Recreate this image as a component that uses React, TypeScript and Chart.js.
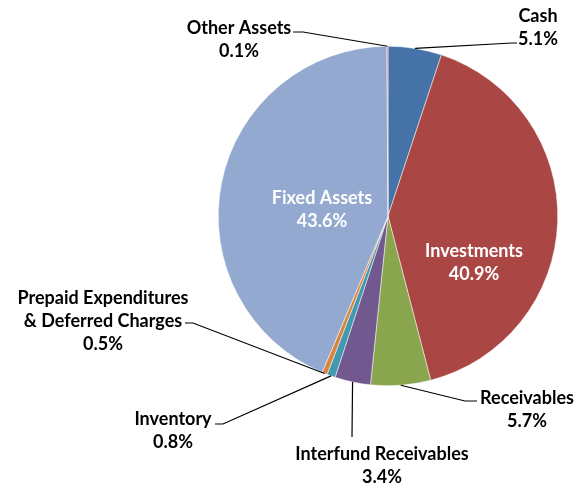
import React, { useEffect, useRef } from "react";
import { Chart, registerables } from "chart.js";

Chart.register(...registerables);

const categories = [
  "Cash",
  "Investments",
  "Receivables",
  "Interfund Receivables",
  "Inventory",
  "Prepaid Expenditures & Deferred Charges",
  "Fixed Assets",
  "Other Assets",
];
const values = [5.1, 40.9, 5.7, 3.4, 0.8, 0.5, 43.6, 0.1];
const percentLabels = ["5.1%", "40.9%", "5.7%", "3.4%", "0.8%", "0.5%", "43.6%", "0.1%"];
const colors = ["#4572A7", "#AA4643", "#89A54E", "#71588F", "#4198AF", "#DB843D", "#93A9CF", "#C97A78"];
const labelTextLines: string[][] = [
  ["Cash"],
  ["Investments"],
  ["Receivables"],
  ["Interfund Receivables"],
  ["Inventory"],
  ["Prepaid Expenditures", "& Deferred Charges"],
  ["Fixed Assets"],
  ["Other Assets"],
];

// layout of labels (text centre x, first-line y, colour, leader elbow points)
type LabelLayout = { x: number; y: number; color: string; leader: [number, number][] | null };
const labelLayout: LabelLayout[] = [
  { x: 538, y: 15, color: "#000", leader: [[517, 43], [512, 43]] },
  { x: 474, y: 250, color: "#fff", leader: null },
  { x: 527, y: 397, color: "#000", leader: [[477, 401], [465, 401]] },
  { x: 382, y: 453, color: "#000", leader: [[352, 437]] },
  { x: 173, y: 418, color: "#000", leader: [[215, 424], [223, 424]] },
  { x: 103, y: 297, color: "#000", leader: [[185, 323], [193, 323]] },
  { x: 322, y: 197, color: "#fff", leader: null },
  { x: 239, y: 27, color: "#000", leader: [[293, 32], [303, 32]] },
];

const FONT = "bold 18px Lato";
const LINE_H = 23;

const labelPlugin = {
  id: "pieLabels",
  afterDatasetsDraw(chart: any) {
    const ctx = chart.ctx as CanvasRenderingContext2D;
    const meta = chart.getDatasetMeta(0);
    ctx.save();
    meta.data.forEach((arc: any, i: number) => {
      const p = arc.getProps(["x", "y", "startAngle", "endAngle", "outerRadius"], true);
      const mid = (p.startAngle + p.endAngle) / 2;
      const ax = p.x + Math.cos(mid) * p.outerRadius;
      const ay = p.y + Math.sin(mid) * p.outerRadius;
      const lay = labelLayout[i];
      if (lay.leader) {
        ctx.beginPath();
        ctx.strokeStyle = "#000";
        ctx.lineWidth = 1.2;
        ctx.moveTo(lay.leader[0][0], lay.leader[0][1]);
        for (let k = 1; k < lay.leader.length; k++) ctx.lineTo(lay.leader[k][0], lay.leader[k][1]);
        ctx.lineTo(ax, ay);
        ctx.stroke();
      }
      ctx.font = FONT;
      ctx.fillStyle = lay.color;
      ctx.textAlign = "center";
      ctx.textBaseline = "middle";
      const lines = [...labelTextLines[i], percentLabels[i]];
      lines.forEach((t, k) => ctx.fillText(t, lay.x, lay.y + k * LINE_H + 1));
    });
    ctx.restore();
  },
};

export default function App() {
  const ref = useRef<HTMLCanvasElement | null>(null);
  useEffect(() => {
    if (!ref.current) return;
    const chart = new Chart(ref.current, {
      type: "pie",
      data: {
        labels: categories,
        datasets: [
          {
            data: values,
            backgroundColor: colors,
            borderColor: "#ffffff",
            borderWidth: 0.5,
          },
        ],
      },
      options: {
        responsive: false,
        animation: false,
        layout: { padding: { left: 218, right: 19, top: 46, bottom: 101 } },
        plugins: { legend: { display: false }, tooltip: { enabled: false } },
      },
      plugins: [labelPlugin],
    });
    return () => chart.destroy();
  }, []);
  return (
    <div style={{ position: "fixed", left: 0, top: 0, width: 577, height: 487, background: "#fff" }}>
      <canvas ref={ref} width={577} height={487} />
    </div>
  );
}
